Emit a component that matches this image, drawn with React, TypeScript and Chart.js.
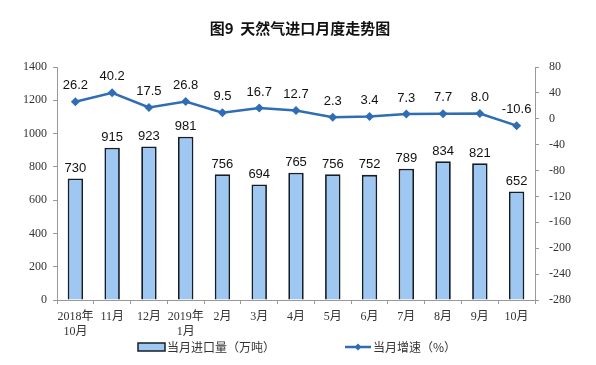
import React, { useEffect, useRef } from "react";
import { Chart, registerables } from "chart.js";

Chart.register(...registerables);

const categories: string[][] = [
  ["2018年", "10月"], ["11月"], ["12月"], ["2019年", "1月"], ["2月"], ["3月"], ["4月"],
  ["5月"], ["6月"], ["7月"], ["8月"], ["9月"], ["10月"],
];
const importVolume = [730, 915, 923, 981, 756, 694, 765, 756, 752, 789, 834, 821, 652];
const growthRate = [26.2, 40.2, 17.5, 26.8, 9.5, 16.7, 12.7, 2.3, 3.4, 7.3, 7.7, 8.0, -10.6];
const title = "图9  天然气进口月度走势图";
const barLegend = "当月进口量（万吨）";
const lineLegend = "当月增速（%）";

const BAR_FILL = "#9ec8f2";
const BAR_BORDER = "#141e2a";
const LINE_COLOR = "#2f6db5";
const TICK_FONT = "'Liberation Serif', 'Noto Sans CJK SC', serif";
const LABEL_FONT = "'Liberation Sans', Arial, sans-serif";
const CJK_FONT = "'Noto Sans CJK SC', sans-serif";

const overlayPlugin = {
  id: "overlay",
  afterDatasetsDraw(chart: any) {
    const ctx = chart.ctx;
    ctx.save();
    ctx.fillStyle = "#111";
    ctx.font = `13px ${LABEL_FONT}`;
    ctx.textAlign = "center";
    ctx.textBaseline = "middle";
    const barMeta = chart.getDatasetMeta(1);
    barMeta.data.forEach((el: any, i: number) => {
      ctx.fillText(String(importVolume[i]), el.x, el.y - 10);
    });
    const lineMeta = chart.getDatasetMeta(0);
    lineMeta.data.forEach((el: any, i: number) => {
      ctx.fillText(growthRate[i].toFixed(1), el.x, el.y - 16);
    });
    ctx.restore();
  },
  afterDraw(chart: any) {
    const ctx = chart.ctx;
    ctx.save();
    ctx.fillStyle = "#111";
    ctx.font = `bold 15px ${CJK_FONT}`;
    ctx.textAlign = "center";
    ctx.textBaseline = "middle";
    ctx.fillText(title, 300, 28);
    const ly = 347;
    ctx.fillStyle = BAR_FILL;
    ctx.fillRect(138, ly - 4, 27, 8);
    ctx.strokeStyle = BAR_BORDER;
    ctx.lineWidth = 1.5;
    ctx.strokeRect(138, ly - 4, 27, 8);
    ctx.fillStyle = "#333";
    ctx.font = `12px ${CJK_FONT}`;
    ctx.textAlign = "left";
    ctx.fillText(barLegend, 167, ly);
    ctx.strokeStyle = LINE_COLOR;
    ctx.lineWidth = 2.5;
    ctx.beginPath();
    ctx.moveTo(345, ly);
    ctx.lineTo(371, ly);
    ctx.stroke();
    ctx.fillStyle = LINE_COLOR;
    ctx.beginPath();
    ctx.moveTo(358, ly - 3.5);
    ctx.lineTo(361.5, ly);
    ctx.lineTo(358, ly + 3.5);
    ctx.lineTo(354.5, ly);
    ctx.closePath();
    ctx.fill();
    ctx.fillStyle = "#333";
    ctx.fillText(lineLegend, 373, ly);
    ctx.restore();
  },
};

export default function App() {
  const ref = useRef<HTMLCanvasElement | null>(null);
  useEffect(() => {
    document.body.style.margin = "0";
    const canvas = ref.current;
    if (!canvas) return;
    const chart = new Chart(canvas, {
      data: {
        labels: categories,
        datasets: [
          {
            type: "line",
            label: lineLegend,
            data: growthRate,
            yAxisID: "y1",
            borderColor: LINE_COLOR,
            backgroundColor: LINE_COLOR,
            borderWidth: 2.5,
            pointStyle: "rectRot",
            pointRadius: 4.5,
            pointBackgroundColor: LINE_COLOR,
            pointBorderWidth: 0,
            order: 0,
          } as any,
          {
            type: "bar",
            label: barLegend,
            data: importVolume,
            yAxisID: "y",
            backgroundColor: BAR_FILL,
            borderColor: BAR_BORDER,
            borderWidth: 1.8,
            barPercentage: 0.42,
            categoryPercentage: 1,
            order: 1,
          } as any,
        ],
      },
      options: {
        animation: false,
        responsive: false,
        maintainAspectRatio: false,
        layout: { padding: { left: 0, right: 0, top: 67, bottom: 0 } },
        plugins: { legend: { display: false }, tooltip: { enabled: false }, title: { display: false } },
        scales: {
          x: {
            grid: { display: true, drawOnChartArea: false, offset: true, tickLength: 4, color: "#999" },
            border: { color: "#999" },
            ticks: { color: "#333", font: { family: TICK_FONT, size: 12 }, maxRotation: 0, autoSkip: false, padding: 6 },
            afterFit: (s: any) => { s.height = 65; },
          },
          y: {
            position: "left",
            min: 0,
            max: 1400,
            grid: { drawOnChartArea: false, tickLength: 4, color: "#999" },
            border: { color: "#999" },
            ticks: { stepSize: 200, color: "#333", font: { family: TICK_FONT, size: 12 }, padding: 6, callback: (v: any) => String(v) },
            afterFit: (s: any) => { s.width = 57; },
          },
          y1: {
            position: "right",
            min: -280,
            max: 80,
            grid: { drawOnChartArea: false, tickLength: 4, color: "#999" },
            border: { color: "#999" },
            ticks: { stepSize: 40, color: "#333", font: { family: TICK_FONT, size: 12 }, padding: 10, callback: (v: any) => String(v) },
            afterFit: (s: any) => { s.width = 61; },
          },
        },
      } as any,
      plugins: [overlayPlugin],
    });
    return () => chart.destroy();
  }, []);
  return (
    <div style={{ width: 596, height: 365, background: "#fff" }}>
      <canvas ref={ref} width={596} height={365} style={{ width: 596, height: 365 }} />
    </div>
  );
}
